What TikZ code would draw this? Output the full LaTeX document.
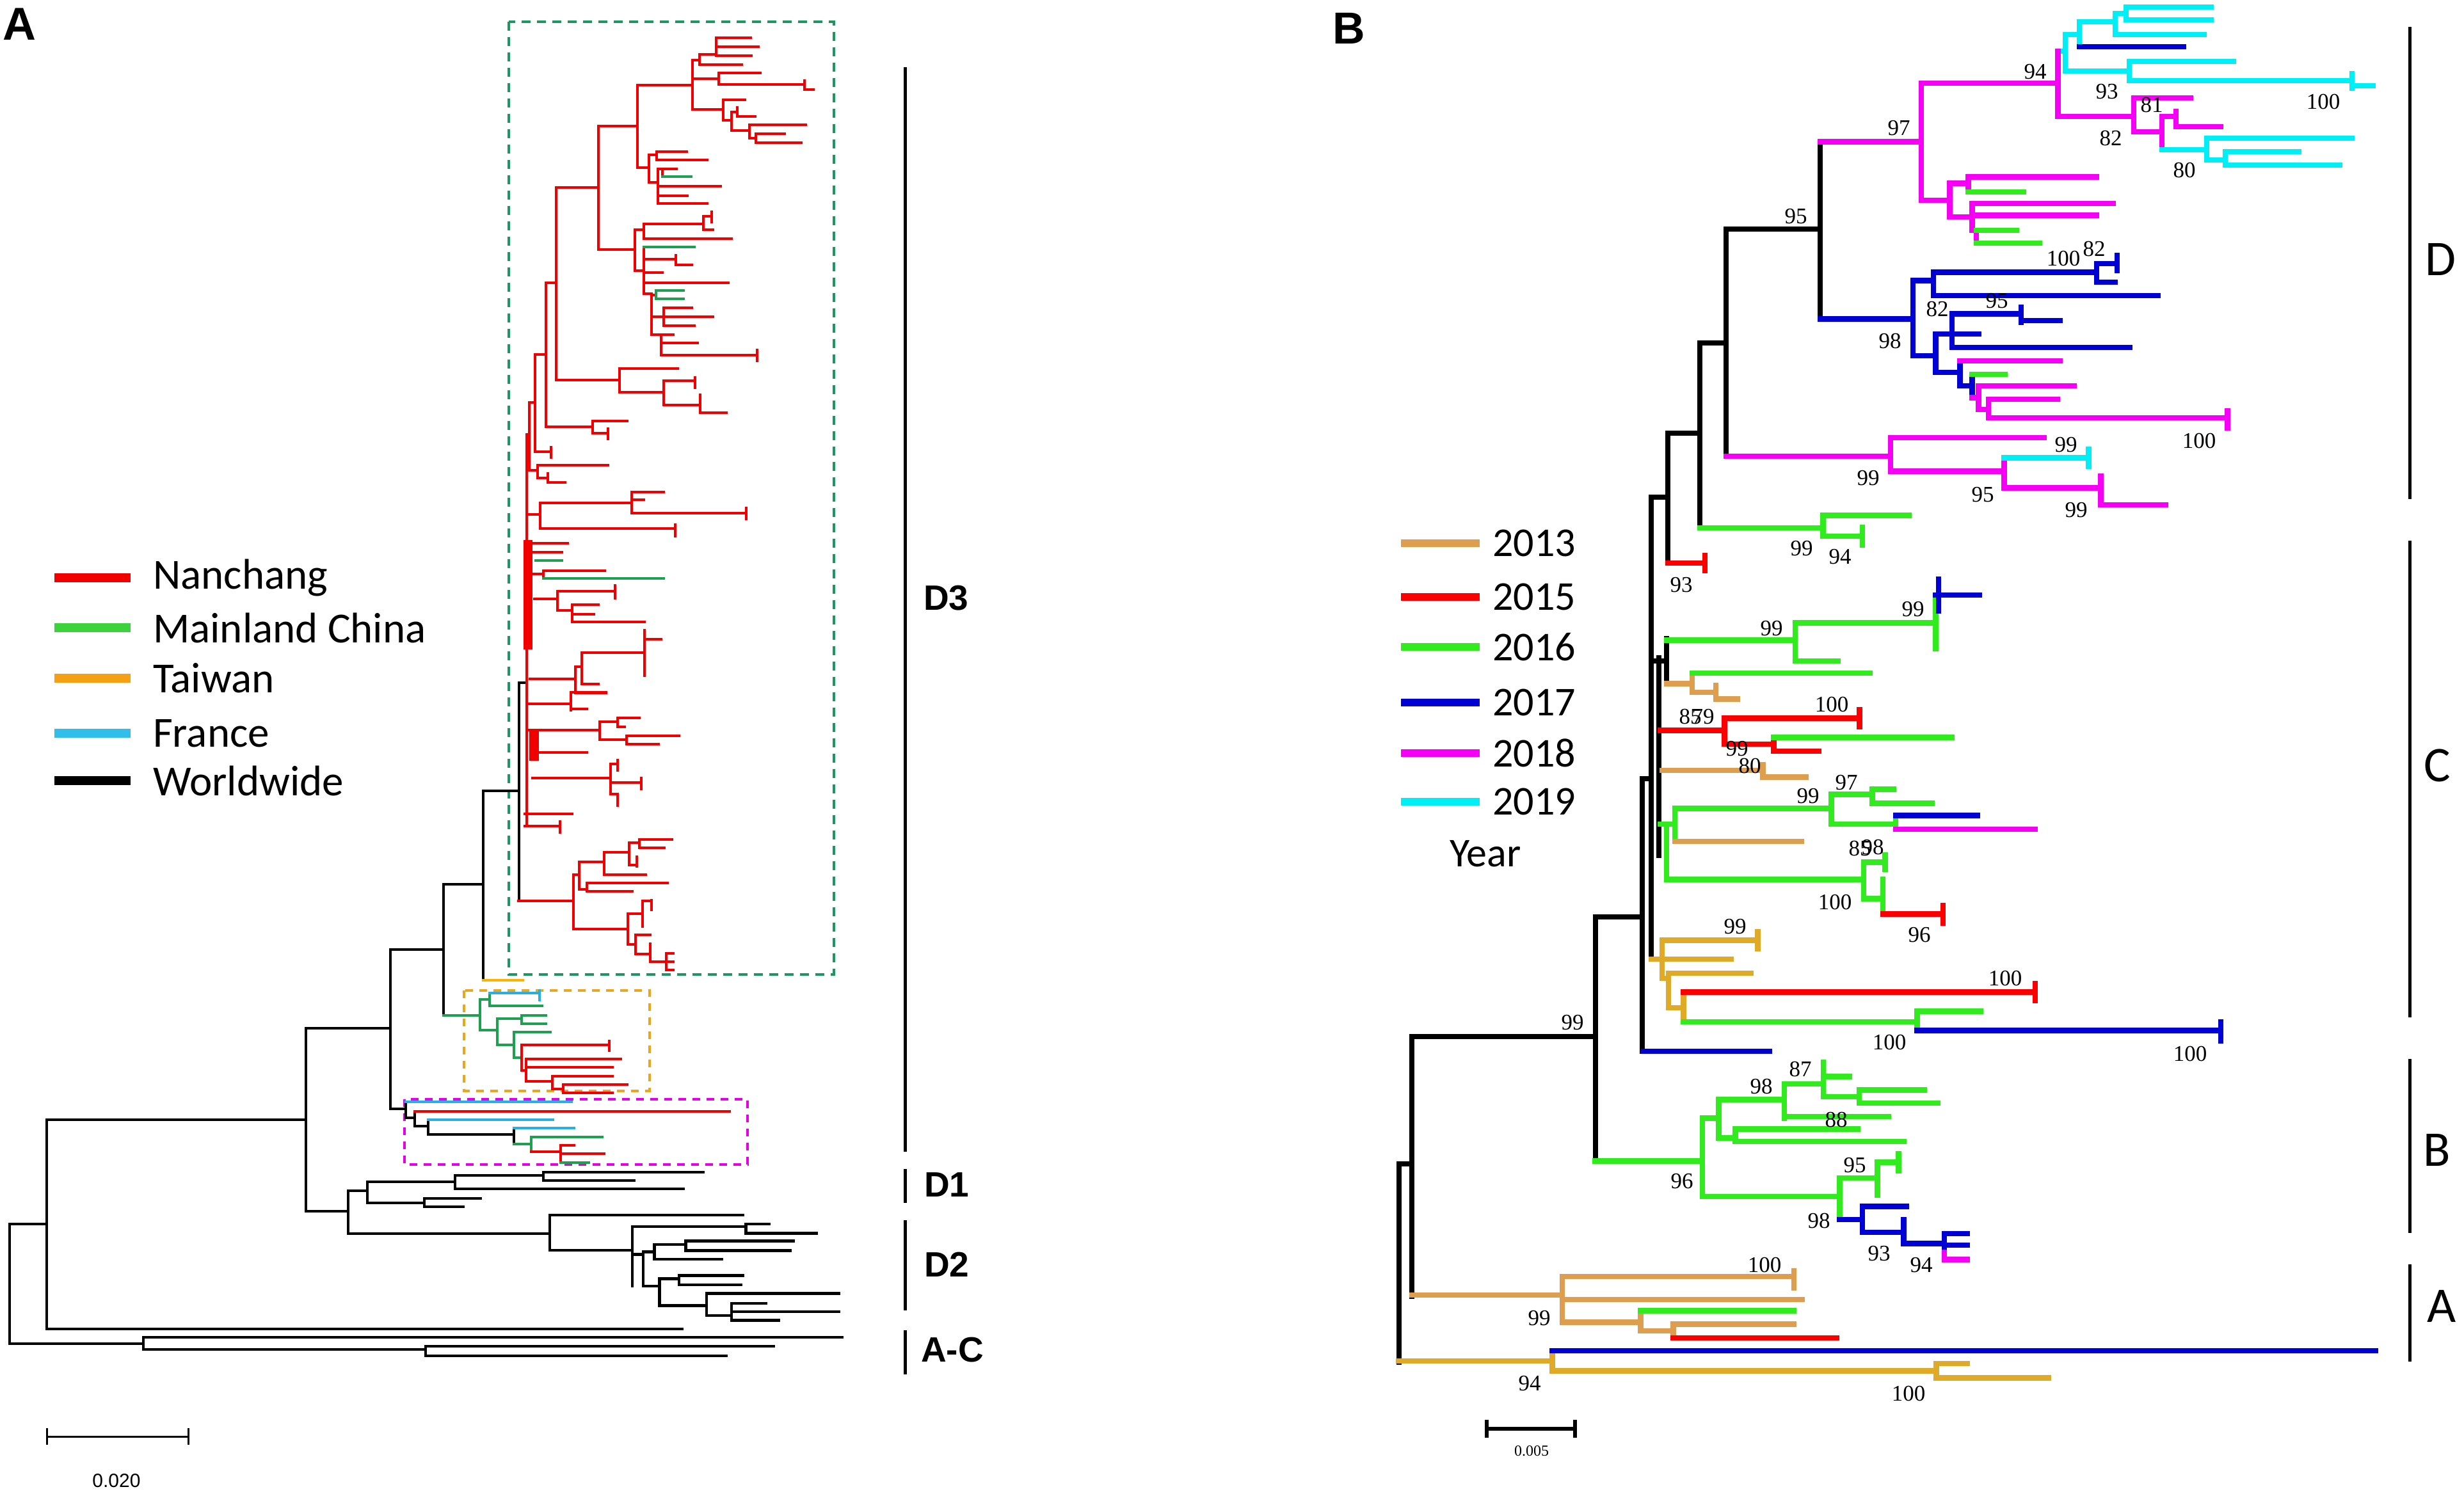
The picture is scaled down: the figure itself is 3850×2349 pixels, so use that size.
\documentclass[tikz,border=0pt]{standalone}
\usepackage{fontspec}
\setmainfont{Carlito}
\newfontfamily\arb{Liberation Sans}
\newfontfamily\ser{Liberation Serif}
\definecolor{rA}{RGB}{240,0,0}
\definecolor{gA}{RGB}{30,160,80}
\definecolor{oA}{RGB}{250,180,0}
\definecolor{fA}{RGB}{40,175,230}
\definecolor{gboxc}{RGB}{30,150,95}
\definecolor{oboxc}{RGB}{235,165,30}
\definecolor{mboxc}{RGB}{230,0,230}
\definecolor{lgG}{RGB}{60,210,60}
\definecolor{lgO}{RGB}{245,160,20}
\definecolor{lgF}{RGB}{50,190,235}
\definecolor{gB}{RGB}{50,235,30}
\definecolor{oB}{RGB}{222,158,80}
\definecolor{oBB}{RGB}{222,170,40}
\definecolor{bB}{RGB}{0,0,210}
\definecolor{mB}{RGB}{245,0,245}
\definecolor{cB}{RGB}{0,238,245}
\definecolor{rB}{RGB}{250,0,0}
\newcommand\bV[4][]{\draw[#1] (#2,#3)--(#2,#4);}
\newcommand\bH[4][]{\draw[#1] (#3,#2)--(#4,#2);}
\tikzset{
  zfive/.style={shift={(780,30)},xscale=0.3444,yscale=0.3444},
  zsix/.style={shift={(780,540)},xscale=0.3444,yscale=0.3571},
  zseven/.style={shift={(600,1080)},xscale=0.4591,yscale=0.3317},
  ztwo/.style={shift={(0,1150)},xscale=1.0204,yscale=0.7645},
  zeleven/.style={shift={(680,1520)},xscale=0.3333,yscale=0.3333},
  ztwelve/.style={shift={(600,1690)},xscale=0.3827,yscale=0.3333},
  zeight/.style={shift={(2750,20)},xscale=0.6378,yscale=0.5230},
  znine/.style={shift={(2500,800)},xscale=0.6698,yscale=0.5420},
  zten/.style={shift={(2150,1600)},xscale=1.0204,yscale=0.4464},
  bs/.style={font=\ser\fontsize{35}{35}\selectfont,inner sep=0pt},
  lgtxt/.style={font=\fontsize{67}{67}\selectfont,anchor=west,inner sep=0pt},
  lgtxtB/.style={font=\fontsize{64}{64}\selectfont,anchor=west,inner sep=0pt},
  clade/.style={font=\arb\bfseries\fontsize{55}{55}\selectfont,anchor=west,inner sep=0pt},
  cladeB/.style={font=\fontsize{78}{78}\selectfont,inner sep=0pt},
}
\begin{document}
\begin{tikzpicture}[x=1pt,y=-1pt,line cap=rect]
\fill[white] (0,0) rectangle (3850,2349);
\useasboundingbox (0,0) rectangle (3850,2349);

% ================= PANEL A =================
\node[font=\arb\bfseries\fontsize{72}{72}\selectfont,inner sep=0pt] (labA) at (30,38) {A};

% legend A
\begin{scope}[line width=14pt,line cap=butt]
\draw[rA] (85,903) -- (204,903);
\draw[lgG] (85,981) -- (204,981);
\draw[lgO] (85,1060) -- (204,1060);
\draw[lgF] (85,1146) -- (204,1146);
\draw[black] (85,1220) -- (204,1220);
\end{scope}
\node[lgtxt] (lgNan) at (239,903) {Nanchang};
\node[lgtxt] (lgMain) at (239,981) {Mainland China};
\node[lgtxt] (lgTai) at (239,1060) {Taiwan};
\node[lgtxt] (lgFra) at (239,1146) {France};
\node[lgtxt] (lgWor) at (239,1220) {Worldwide};

% boxes
\draw[gboxc,line width=3.5pt,dash pattern=on 14pt off 10pt,line cap=butt] (795,34) rectangle (1303,1523);
\draw[oboxc,line width=3.5pt,dash pattern=on 12pt off 10pt,line cap=butt] (725,1548) rectangle (1015,1705);
\draw[mboxc,line width=3.5pt,dash pattern=on 12pt off 10pt,line cap=butt] (632,1718) rectangle (1168,1820);

% black backbone A
\begin{scope}[line width=4.5pt,black]
\bV{15}{1913}{2100} \bH{1913}{15}{73} \bV{73}{1750}{2077} \bH{1750}{73}{478} \bH{2077}{73}{1066}
\bH{2100}{15}{224} \bV{224}{2090}{2109} \bH{2090}{224}{1316} \bH{2109}{224}{665} \bV{665}{2104}{2119} \bH{2104}{665}{1209} \bH{2119}{665}{1135}
\bV{478}{1607}{1893} \bH{1607}{478}{610} \bH{1893}{478}{544}
\bV{610}{1484}{1733} \bH{1484}{610}{693}
\bV{693}{1382}{1587} \bH{1382}{693}{755}
\bV{755}{1236}{1532} \bH{1236}{755}{811}
\bV{811}{1067}{1408} \bH{1067}{811}{823}
\bV{544}{1861}{1928} \bH{1861}{544}{574} \bV{574}{1847}{1880} \bH{1847}{574}{711} \bV{711}{1837}{1858}
\bH{1837}{711}{849} \bV{849}{1832}{1845} \bH{1832}{849}{1099} \bH{1845}{849}{991} \bH{1858}{711}{1068}
\bH{1880}{574}{663} \bV{663}{1873}{1886} \bH{1873}{663}{751} \bH{1886}{663}{724}
\bH{1928}{544}{859} \bV{859}{1899}{1954} \bH{1899}{859}{1161} \bH{1954}{859}{988}
\end{scope}
\bH[oA,line width=4.5pt]{1532}{755}{817}

% D2 detail
\begin{scope}[ztwo,line width=4.5pt,black]
\bV{968}{1003}{1125}
\bH{1003}{968}{1142} \bV{1142}{998}{1017} \bH{998}{1142}{1178} \bH{1017}{1142}{1250}
\bH{1060}{968}{985} \bV{985}{1055}{1125}
\bH{1055}{985}{1002} \bV{1002}{1040}{1070} \bH{1040}{1002}{1050} \bV{1050}{1033}{1052} \bH{1033}{1050}{1215} \bH{1052}{1050}{1210} \bH{1070}{1002}{1105}
\bH{1125}{985}{1010} \bV{1010}{1110}{1165}
\bH{1110}{1010}{1040} \bV{1040}{1103}{1122} \bH{1103}{1040}{1138} \bH{1122}{1040}{1135}
\bH{1165}{1010}{1082} \bV{1082}{1140}{1185} \bH{1140}{1082}{1285}
\bH{1185}{1082}{1120} \bV{1120}{1160}{1195} \bH{1160}{1120}{1173} \bH{1177}{1120}{1285} \bH{1195}{1120}{1192}
\end{scope}

% D3 upper (zoom 5 frame)
\begin{scope}[zfive,line width=4pt,rA]
\bV{258}{765}{1638} \bH{765}{258}{450}
\bV{450}{485}{1045} \bH{485}{450}{628}
\bV{628}{300}{675} \bH{300}{628}{878}
\bV{878}{185}{410}
\bH{185}{878}{910} \bV{910}{160}{205}
\bH{160}{910}{985} \bV{985}{85}{165}
\bH{85}{985}{1140} \bH{125}{985}{1175} \bH{165}{985}{1145}
\bH{205}{910}{1100}
\bH{270}{878}{995} \bV{995}{245}{295}
\bH{245}{995}{1185} \bH{295}{995}{1385} \bV{1385}{280}{320} \bH{320}{1385}{1425}
\bH{410}{878}{1015} \bV{1015}{365}{460}
\bH{365}{1015}{1115} \bH{460}{1015}{1055} \bV{1055}{420}{505}
\bH{420}{1055}{1080} \bV{1080}{400}{440} \bH{440}{1080}{1160}
\bH{505}{1055}{1135} \bV{1135}{480}{540}
\bH{480}{1135}{1390} \bH{540}{1135}{1165} \bV{1165}{520}{560}
\bH{520}{1165}{1295} \bH{560}{1165}{1370}
\bH{675}{628}{680} \bV{680}{615}{740}
\bH{615}{680}{715} \bV{715}{600}{640} \bH{600}{715}{850} \bH{640}{715}{945}
\bH{740}{680}{720} \bV{720}{680}{835}
\bH{680}{720}{740} \bV{740}{680}{715} \bH{680}{740}{805} \bH[gA]{715}{740}{870}
\bH{758}{720}{1005} \bH{800}{720}{855} \bH{835}{720}{945}
\bH{1045}{450}{615} \bV{615}{955}{1140}
\bH{955}{615}{655} \bV{655}{930}{995}
\bH{930}{655}{925} \bV{925}{895}{955} \bH{895}{925}{965} \bV{965}{875}{920} \bH{955}{925}{970}
\bH{995}{655}{1055}
\bH{1140}{615}{655} \bV{655}{1035}{1245}
\bH[gA]{1035}{655}{885}
\bH{1090}{655}{800} \bV{800}{1070}{1115} \bH{1115}{800}{875}
\bH{1150}{655}{740}
\bH{1195}{655}{1040}
\bH{1245}{655}{690} \bV{690}{1250}{1430}
\bH{1250}{690}{710} \bV[gA]{710}{1232}{1270} \bH[gA]{1232}{710}{835} \bH[gA]{1270}{710}{835}
\bH{1350}{690}{745} \bV{745}{1310}{1390} \bH{1310}{745}{875} \bH{1350}{745}{970} \bH{1390}{745}{885}
\bH{1430}{690}{735} \bV{735}{1430}{1525} \bH{1430}{735}{790} \bH{1470}{735}{900} \bH{1525}{735}{1170} \bV{1170}{1500}{1550}
\bV{212}{1195}{1850} \bH{1195}{212}{258}
\end{scope}

% D3 middle (zoom 6 frame)
\begin{scope}[zsix,line width=4pt,rA]
\bH{150}{258}{545} \bV{545}{100}{205} \bH{100}{545}{810} \bH{205}{545}{745} \bV{745}{155}{260} \bH{155}{745}{888} \bV{888}{140}{185} \bH{260}{745}{912} \bV{912}{215}{295} \bH{295}{912}{1030}
\bH{355}{212}{425} \bV{425}{330}{385} \bH{330}{425}{580} \bH{385}{425}{495} \bV{495}{365}{410}
\bV{162}{40}{465} \bH{40}{162}{212} \bH{465}{162}{235} \bV{235}{445}{490}
\bV{135}{250}{545} \bH{250}{135}{162} \bH{545}{135}{175} \bV{175}{525}{580} \bH{525}{175}{495} \bH{580}{175}{220} \bV{220}{560}{600} \bH{600}{220}{298}
\bV{125}{390}{2100} \bH{390}{125}{135}
\bV{185}{690}{800} \bH{740}{125}{185}
\bH{690}{185}{600} \bV{600}{640}{735} \bH{640}{600}{745} \bH{675}{600}{655} \bH{735}{600}{1122} \bV{1122}{710}{760}
\bH{800}{185}{797} \bV{797}{785}{835}
\fill[rA] (110,850) rectangle (152,1330);
\bH{865}{150}{310} \bH{905}{150}{285} \bH[gA]{940}{165}{285}
\bV{200}{985}{1020} \bH{1000}{150}{200} \bH{985}{200}{480} \bH[gA]{1020}{200}{745}
\bV{265}{1075}{1160} \bH{1110}{160}{265} \bH{1075}{265}{525} \bV{525}{1050}{1105}
\bH{1160}{265}{330} \bV{330}{1135}{1210} \bH{1135}{330}{450} \bH{1175}{330}{430} \bH{1210}{330}{660}
\bV{660}{1245}{1445} \bH{1285}{660}{735}
\bH{1345}{375}{660} \bV{375}{1345}{1480} \bH{1480}{375}{450}
\bV{345}{1405}{1520} \bH{1405}{345}{375} \bH{1520}{345}{485} \bH{1460}{140}{345}
\end{scope}

% D3 lower (zoom 7 frame)
\begin{scope}[zseven,line width=4pt,rA]
\bH{60}{490}{635} \bV{635}{5}{90} \bH{5}{635}{755} \bH{85}{635}{690}
\bH{185}{490}{735} \bV{735}{145}{230} \bH{145}{735}{795} \bV{795}{128}{170} \bH{128}{795}{870} \bH{170}{795}{820}
\bH{230}{735}{825} \bV{825}{210}{250} \bH{210}{825}{1005} \bH{250}{825}{935}
\fill[rA] (495,190) rectangle (528,330);
\bH{290}{500}{690}
\bH{410}{505}{770} \bV{770}{345}{485} \bH{345}{770}{795} \bV{795}{325}{375} \bH{430}{770}{875} \bV{875}{410}{460} \bH{485}{770}{795} \bV{795}{485}{540}
\bH{578}{480}{640} \bH{635}{480}{598} \bV{598}{615}{665}
\bH{990}{458}{645} \bV{645}{865}{1120}
\bH{865}{645}{665} \bV{665}{805}{935} \bH{805}{665}{750} \bV{750}{760}{865} \bH{760}{750}{835} \bV{835}{715}{820}
\bH{715}{835}{870} \bV{870}{700}{740} \bH{700}{870}{980} \bH{740}{870}{955} \bH{820}{835}{860} \bV{860}{780}{825} \bH{865}{750}{890}
\bH{935}{665}{690} \bV{690}{905}{945} \bH{905}{690}{965} \bH{945}{690}{845}
\bH{1120}{645}{830} \bV{830}{1050}{1195} \bH{1050}{830}{880} \bV{880}{990}{1110} \bH{990}{880}{910} \bV{910}{985}{1030}
\bH{1195}{830}{855} \bV{855}{1150}{1240} \bH{1150}{855}{905} \bH{1240}{855}{905} \bV{905}{1190}{1275}
\bH{1275}{905}{960} \bV{960}{1235}{1315} \bH{1235}{960}{985} \bH{1275}{960}{985} \bH{1315}{960}{985}
\end{scope}

% orange box clade (zoom 11 frame)
\begin{scope}[zeleven,line width=4pt,gA]
\bH{200}{40}{210}
\bV{210}{125}{270}
\bH{125}{210}{255} \bV{255}{95}{155} \bH[fA]{95}{255}{490} \bV[fA]{490}{85}{130} \bH{155}{255}{500}
\bH{270}{210}{290} \bV{290}{215}{340} \bH{215}{290}{405} \bV{405}{200}{240} \bH{200}{405}{520} \bH{240}{405}{520}
\bH{340}{290}{370} \bV{370}{280}{400} \bH{280}{370}{540} \bH{400}{370}{405}
\bV[rA]{405}{340}{460} \bH[rA]{340}{405}{815} \bV[rA]{815}{320}{365} \bH[rA]{460}{405}{425} \bV[rA]{425}{405}{510}
\bH[rA]{405}{425}{870} \bH[rA]{445}{425}{830} \bH[rA]{510}{425}{550} \bV[rA]{550}{485}{545} \bH[rA]{485}{550}{830}
\bH[rA]{545}{550}{600} \bV[rA]{600}{525}{565} \bH[rA]{525}{600}{900} \bH[rA]{565}{600}{830}
\end{scope}

% magenta box clade (zoom 12 frame)
\begin{scope}[ztwelve,line width=4pt,black]
\bH{130}{26}{90} \bV{90}{95}{170} \bH[fA]{95}{90}{765} \bH{170}{90}{125} \bV{125}{140}{210} \bH[rA]{140}{125}{1410}
\bH{210}{125}{180} \bV{180}{180}{250} \bH[fA]{180}{180}{690} \bH{250}{180}{530} \bV{530}{220}{295} \bH[fA]{220}{530}{775}
\bH[gA]{295}{530}{600} \bV[gA]{600}{262}{330} \bH[gA]{262}{600}{890} \bH[rA]{330}{600}{720} \bV[rA]{720}{300}{380}
\bH[rA]{300}{720}{775} \bH[rA]{340}{720}{900} \bH[gA]{380}{720}{835}
\end{scope}

% clade bars A
\begin{scope}[line width=5pt,line cap=butt]
\draw (1414,105) -- (1414,1800);
\draw (1414,1827) -- (1414,1880);
\draw (1414,1907) -- (1414,2048);
\draw (1414,2079) -- (1414,2148);
\end{scope}
\node[clade] (cD3) at (1443,935) {D3};
\node[clade] (cD1) at (1444,1852) {D1};
\node[clade] (cD2) at (1444,1976) {D2};
\node[clade] (cAC) at (1439,2110) {A-C};

% scale bar A
\draw[line width=3pt,line cap=butt] (73,2245) -- (294,2245);
\draw[line width=3pt,line cap=butt] (73,2232) -- (73,2258);
\draw[line width=3pt,line cap=butt] (294,2232) -- (294,2258);
\node[font=\arb\fontsize{30}{30}\selectfont,inner sep=0pt] (sA) at (182,2314) {0.020};

% ================= PANEL B =================
\node[font=\arb\bfseries\fontsize{70}{70}\selectfont,inner sep=0pt] (labB) at (2108,44) {B};

% legend B
\begin{scope}[line width=12pt,line cap=butt]
\draw[oB] (2189,849) -- (2312,849);
\draw[rB] (2189,933) -- (2312,933);
\draw[gB] (2189,1011) -- (2312,1011);
\draw[bB] (2189,1098) -- (2312,1098);
\draw[mB] (2189,1177) -- (2312,1177);
\draw[cB] (2189,1253) -- (2312,1253);
\end{scope}
\node[lgtxtB] (y13) at (2332,849) {2013};
\node[lgtxtB] (y15) at (2332,933) {2015};
\node[lgtxtB] (y16) at (2332,1011) {2016};
\node[lgtxtB] (y17) at (2332,1098) {2017};
\node[lgtxtB] (y18) at (2332,1177) {2018};
\node[lgtxtB] (y19) at (2332,1253) {2019};
\node[lgtxtB] (yr) at (2265,1334) {Year};

% backbone B
\begin{scope}[line width=8.5pt,black]
\bV{2697}{358}{713} \bH{358}{2697}{2844} \bV{2844}{221}{499}
\bV{2656}{536}{825} \bH{536}{2656}{2697}
\bV{2606}{677}{880} \bH{677}{2606}{2656}
\bV{2580}{777}{1499} \bH{777}{2580}{2606}
\bV{2592}{1028}{1337}
\bV{2566}{1217}{1643} \bH{1217}{2566}{2580}
\bV{2493}{1433}{1814} \bH{1433}{2493}{2566}
\bV{2206}{1620}{2026} \bH{1620}{2206}{2493}
\bV{2186}{1819}{2129} \bH{1819}{2186}{2206}
\end{scope}

% cyan/magenta top (full coordinates)
\begin{scope}[line width=8.5pt,cB]
\bH{80}{3216}{3227} \bV{3227}{54}{111}
\bH{54}{3227}{3249} \bV{3249}{34}{73} \bH[bB]{73}{3249}{3412}
\bH{34}{3249}{3305} \bV{3305}{21}{54} \bH{54}{3305}{3444}
\bH{21}{3305}{3322} \bV{3322}{11}{31} \bH{11}{3322}{3455} \bH{31}{3322}{3455}
\bH{111}{3227}{3327} \bV{3327}{96}{126} \bH{96}{3327}{3490} \bH{126}{3327}{3675} \bV{3675}{115}{138} \bH{134}{3675}{3708}
\bH[mB]{182}{3216}{3334} \bV[mB]{3334}{153}{206} \bH[mB]{153}{3334}{3423} \bH[mB]{206}{3334}{3378}
\bV[mB]{3378}{182}{234} \bH[mB]{182}{3378}{3400} \bV[mB]{3400}{174}{198} \bH[mB]{198}{3400}{3470}
\bH{234}{3378}{3448} \bV{3448}{216}{250} \bH{216}{3448}{3675} \bH{250}{3448}{3477} \bV{3477}{237}{258}
\bH{237}{3477}{3592} \bH{258}{3477}{3656}
\end{scope}

% D clade (zoom 8 frame)
\begin{scope}[zeight,line width=8.5pt,mB]
\bH{385}{148}{395} \bV{395}{210}{560}
\bH{210}{395}{730} \bV{730}{115}{310}
\bH{560}{395}{465} \bV{465}{510}{610} \bH{510}{465}{510} \bV{510}{490}{535} \bH{490}{510}{825} \bH[gB]{535}{510}{645}
\bH{610}{465}{520} \bV{520}{570}{650} \bH{570}{520}{865} \bH{605}{520}{825} \bH{650}{520}{530} \bV{530}{650}{688} \bH[gB]{650}{530}{628} \bH[gB]{688}{530}{685}
\bH[bB]{915}{148}{375} \bV[bB]{375}{800}{1025}
\bH[bB]{800}{375}{425} \bV[bB]{425}{775}{845} \bH[bB]{775}{425}{825} \bV[bB]{825}{750}{805} \bH[bB]{750}{825}{875} \bV[bB]{875}{725}{770} \bH[bB]{805}{825}{870} \bH[bB]{845}{425}{975}
\bH[bB]{1025}{375}{430} \bV[bB]{430}{960}{1075} \bH[bB]{960}{430}{470} \bV[bB]{470}{900}{1000} \bH[bB]{900}{470}{640} \bV[bB]{640}{880}{925} \bH[bB]{920}{640}{735} \bH[bB]{960}{470}{535} \bH[bB]{1000}{470}{905}
\bH[bB]{1075}{430}{490} \bV[bB]{490}{1040}{1115} \bH{1040}{490}{735} \bH[bB]{1115}{490}{520} \bV[bB]{520}{1080}{1150} \bH[gB]{1080}{520}{600}
\bH{1150}{520}{535} \bV{535}{1115}{1185} \bH{1115}{535}{770} \bH{1185}{535}{560} \bV{560}{1155}{1210} \bH{1155}{560}{728} \bH{1210}{560}{1145} \bV{1145}{1190}{1240}
\bH{1325}{-83}{320} \bV{320}{1270}{1370} \bH{1270}{320}{695} \bH{1370}{320}{598} \bV{598}{1330}{1420}
\bH[cB]{1330}{598}{805} \bV[cB]{805}{1305}{1355} \bH{1420}{598}{835} \bV{835}{1385}{1470} \bH{1470}{835}{993}
\end{scope}

% C clade (zoom 9 frame)
\begin{scope}[znine,line width=8.5pt,gB]
\bH{46}{233}{520} \bV{520}{10}{70} \bH{10}{520}{720} \bH{70}{520}{612} \bV{612}{45}{95}
\bH[rB]{148}{158}{245} \bV[rB]{245}{125}{170}
\bH[black]{430}{120}{155} \bV[black]{155}{365}{495}
\bH{370}{155}{455} \bV{455}{320}{430} \bH{320}{455}{783} \bV{783}{245}{395} \bH[bB]{240}{783}{885} \bV[bB]{790}{195}{285} \bH{430}{455}{555}
\bH[oB]{495}{155}{215} \bV[oB]{215}{465}{520} \bH{465}{215}{630} \bH[oB]{520}{215}{270} \bV[oB]{270}{500}{540} \bH[oB]{540}{270}{320}
\bH[rB]{630}{140}{290} \bV[rB]{290}{595}{670} \bH[rB]{595}{290}{605} \bV[rB]{605}{570}{620} \bH[rB]{670}{290}{405} \bV[rB]{405}{650}{690} \bH{650}{405}{820} \bH[rB]{690}{405}{510}
\bH[oB]{745}{145}{380} \bV[oB]{380}{730}{765} \bH[oB]{765}{380}{480}
\bV{155}{900}{1060} \bH{900}{140}{175} \bV{175}{855}{950} \bH{855}{175}{540} \bV{540}{815}{900} \bH{815}{540}{635} \bV{635}{800}{840} \bH{800}{635}{685} \bH{840}{635}{775}
\bH{900}{540}{690} \bV{690}{875}{915} \bH[bB]{875}{690}{880} \bH[mB]{915}{690}{1015} \bH[oB]{950}{175}{470}
\bH{1060}{155}{615} \bV{615}{1010}{1115} \bH{1010}{615}{665} \bV{665}{990}{1030} \bH{1115}{615}{660} \bV{660}{1060}{1160} \bH[rB]{1160}{660}{800} \bV[rB]{800}{1135}{1185}
\bH[oBB]{1290}{120}{145} \bV[oBB]{145}{1235}{1345} \bH[oBB]{1235}{145}{368} \bV[oBB]{368}{1210}{1260} \bH[oBB]{1290}{145}{305}
\bH[oBB]{1345}{145}{160} \bV[oBB]{160}{1330}{1430} \bH[oBB]{1330}{160}{352} \bH[oBB]{1430}{160}{195} \bV[oBB]{195}{1385}{1470}
\bH[rB]{1385}{195}{1015} \bV[rB]{1015}{1360}{1410} \bH{1470}{195}{740} \bV{740}{1440}{1495} \bH{1440}{740}{888} \bH[bB]{1495}{740}{1448} \bV[bB]{1448}{1470}{1525}
\bH[bB]{1555}{100}{395}
\end{scope}

% B and A clades (zoom 10 frame)
\begin{scope}[zten,line width=8.5pt,gB]
\bH{480}{335}{500} \bV{500}{330}{605} \bH{330}{500}{525} \bV{525}{265}{400} \bH{265}{525}{625} \bV{625}{210}{330}
\bH{210}{625}{685} \bV{685}{135}{255} \bH{185}{685}{725} \bH{255}{685}{740} \bV{740}{232}{278} \bH{232}{740}{840} \bH{278}{740}{860}
\bH{325}{625}{785} \bH{400}{525}{550} \bV{550}{368}{412} \bH{368}{550}{738} \bH{412}{550}{808}
\bH{605}{500}{710} \bV{710}{540}{685} \bH{540}{710}{768} \bV{768}{485}{600} \bH{485}{768}{800} \bV{800}{455}{515}
\bH[bB]{685}{710}{745} \bV[bB]{745}{640}{730} \bH[bB]{640}{745}{812} \bH[bB]{730}{745}{808} \bV[bB]{808}{685}{770}
\bH[bB]{770}{808}{870} \bV[bB]{870}{735}{800} \bV[mB]{870}{800}{825} \bH[bB]{735}{870}{905} \bH[bB]{775}{870}{905} \bH[mB]{825}{870}{905}
\bH[oB]{950}{55}{285} \bV[oB]{285}{885}{1045} \bH[oB]{885}{285}{640} \bV[oB]{640}{865}{925} \bH[oB]{965}{285}{652}
\bH[oB]{1045}{285}{405} \bV[oB]{405}{1005}{1075} \bH{1005}{405}{640} \bH[oB]{1075}{405}{455} \bV[oB]{455}{1052}{1100} \bH[oB]{1052}{455}{640} \bH[rB]{1100}{455}{705}
\bH[oBB]{1180}{35}{270} \bV[oBB]{270}{1145}{1215} \bH[bB]{1145}{270}{1530} \bH[oBB]{1215}{270}{858} \bV[oBB]{858}{1190}{1240} \bH[oBB]{1190}{858}{905} \bH[oBB]{1240}{858}{1030}
\end{scope}

% bootstrap labels B
\node[bs] (b1) at (3180,112) {94};
\node[bs] (b2) at (3292,143) {93};
\node[bs] (b3) at (3630,159) {100};
\node[bs] (b4) at (3362,164) {81};
\node[bs] (b5) at (2967,200) {97};
\node[bs] (b6) at (3298,216) {82};
\node[bs] (b7) at (3413,266) {80};
\node[bs] (b8) at (2806,338) {95};
\node[bs] (b9) at (3224,404) {100};
\node[bs] (b10) at (3272,389) {82};
\node[bs] (b11) at (3120,470) {95};
\node[bs] (b12) at (3027,483) {82};
\node[bs] (b13) at (2953,533) {98};
\node[bs] (b14) at (3436,689) {100};
\node[bs] (b15) at (3228,695) {99};
\node[bs] (b16) at (2919,747) {99};
\node[bs] (b17) at (3098,773) {95};
\node[bs] (b18) at (3244,797) {99};
\node[bs] (b19) at (2815,857) {99};
\node[bs] (b20) at (2875,870) {94};
\node[bs] (b21) at (2627,914) {93};
\node[bs] (b22) at (2989,952) {99};
\node[bs] (b23) at (2768,982) {99};
\node[bs] (b24) at (2862,1101) {100};
\node[bs] (b25) at (2641,1120) {85};
\node[bs] (b26) at (2661,1120) {79};
\node[bs] (b27) at (2714,1170) {99};
\node[bs] (b28) at (2734,1197) {80};
\node[bs] (b29) at (2885,1223) {97};
\node[bs] (b30) at (2825,1244) {99};
\node[bs] (b31) at (2906,1326) {85};
\node[bs] (b32) at (2926,1324) {98};
\node[bs] (b33) at (2867,1410) {100};
\node[bs] (b34) at (2999,1461) {96};
\node[bs] (b35) at (2711,1448) {99};
\node[bs] (b36) at (3133,1529) {100};
\node[bs] (b37) at (2952,1629) {100};
\node[bs] (b38) at (3422,1647) {100};
\node[bs] (b39) at (2457,1598) {99};
\node[bs] (b40) at (2813,1671) {87};
\node[bs] (b41) at (2752,1698) {98};
\node[bs] (b42) at (2869,1750) {88};
\node[bs] (b43) at (2898,1821) {95};
\node[bs] (b44) at (2628,1846) {96};
\node[bs] (b45) at (2842,1908) {98};
\node[bs] (b46) at (2936,1959) {93};
\node[bs] (b47) at (3002,1977) {94};
\node[bs] (b48) at (2757,1977) {100};
\node[bs] (b49) at (2405,2060) {99};
\node[bs] (b50) at (2390,2162) {94};
\node[bs] (b51) at (2982,2178) {100};

% clade bars B
\begin{scope}[line width=5pt,line cap=butt]
\draw (3765,42) -- (3765,780);
\draw (3765,845) -- (3765,1590);
\draw (3765,1655) -- (3765,1927);
\draw (3765,1976) -- (3765,2128);
\end{scope}
\node[cladeB] (cD) at (3813,405) {D};
\node[cladeB] (cC) at (3808,1196) {C};
\node[cladeB] (cB) at (3808,1797) {B};
\node[cladeB] (cA) at (3815,2041) {A};

% scale bar B
\draw[line width=6pt,line cap=butt] (2323,2233) -- (2461,2233);
\draw[line width=6pt,line cap=butt] (2323,2219) -- (2323,2247);
\draw[line width=6pt,line cap=butt] (2461,2219) -- (2461,2247);
\node[font=\ser\fontsize{24}{24}\selectfont,inner sep=0pt] (sB) at (2393,2268) {0.005};
\end{tikzpicture}
\end{document}
